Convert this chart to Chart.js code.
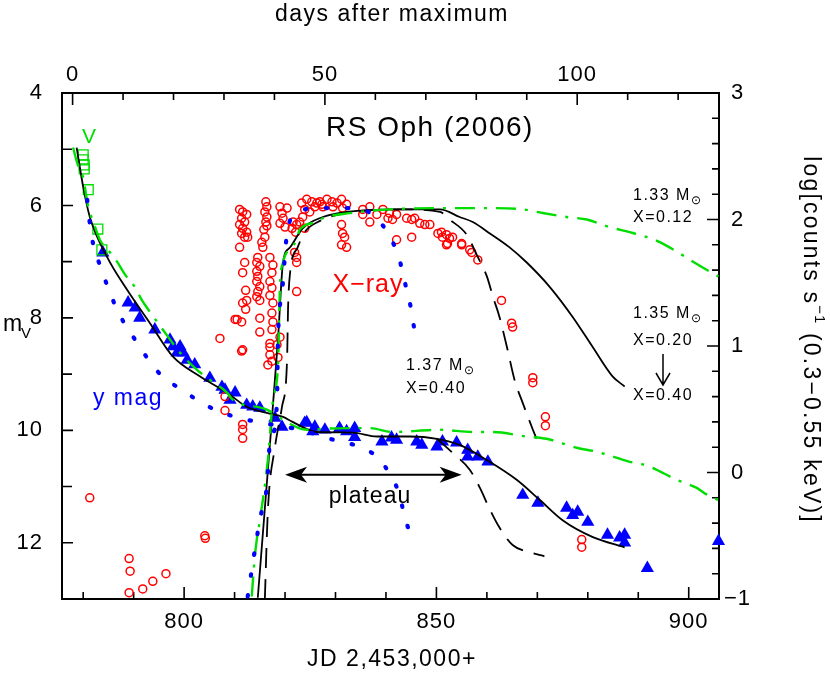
<!DOCTYPE html>
<html><head><meta charset="utf-8">
<script src="https://cdn.jsdelivr.net/npm/chart.js@4.4.1/dist/chart.umd.min.js"></script>
<style>html,body{margin:0;padding:0;background:#fff}</style>
</head><body>
<canvas id="c" width="830" height="678"></canvas>
<script>
// ---------- data ----------
const jdMin = 775.8, jdMax = 906.0, dayZero = 777.9;
const bottomTickVals = [780,790,800,810,820,830,840,850,860,870,880,890,900];
const bottomLabelVals = [800,850,900];
const topTickVals = [0,10,20,30,40,50,60,70,80,90,100,110,120];
const topLabelVals = [0,50,100];
const leftTickVals = [4,5,6,7,8,9,10,11,12,13];
const leftLabelVals = [4,6,8,10,12];
const rightTickVals = [-1,-0.8,-0.6,-0.4,-0.2,0,0.2,0.4,0.6,0.8,1,1.2,1.4,1.6,1.8,2,2.2,2.4,2.6,2.8,3];
const rightLabelVals = [-1,0,1,2,3];

// X-ray count rate (log counts/s), red open circles
const xrayJD = [
 781.3,789.1,789.3,789.1,791.8,793.8,796.4,804.1,804.2,807.1,810.1,808.1,808.1,811.4,811.6,811.6,811.6,817.0,817.0,816.6,817.4,818.4,
 811.0,811.6,812.4,811.4,812.0,811.0,811.6,812.4,811.4,812.0,812.6,811.0,812.0,811.6,812.2,812.4,811.6,812.2,810.5,811.4,811.6,
 814.6,814.4,815.0,814.4,814.6,814.4,815.0,814.6,814.4,815.0,815.0,815.0,
 816.2,816.4,816.0,816.4,816.2,816.4,815.8,816.0,815.4,815.6,
 817.0,817.6,817.4,817.0,817.4,817.0,817.6,817.4,817.6,817.4,819.0,817.0,818.6,
 819.0,820.4,819.4,819.6,819.0,820.0,821.4,821.6,822.3,822.1,821.9,822.3,822.3,822.3,
 823.3,824.3,825.3,826.3,826.9,827.5,828.3,829.3,830.3,831.2,832.2,823.9,824.9,825.9,827.3,829.5,831.4,823.5,822.9,823.9,831.2,831.4,831.8,831.2,832.2,
 835.4,836.8,838.2,835.4,836.8,839.4,840.7,840.4,841.3,842.1,844.1,845.1,845.7,846.7,847.7,848.7,842.1,845.1,
 850.3,851.0,851.2,852.0,852.6,852.2,853.2,855.0,856.6,852.0,855.0,857.0,858.2,862.9,864.9,865.1,869.1,869.1,871.6,871.6,878.8,878.8];
const xrayLog = [
 -0.20,-0.68,-0.78,-0.95,-0.92,-0.86,-0.80,-0.50,-0.52,1.06,1.21,0.60,0.49,0.96,0.38,0.34,0.27,1.02,0.93,0.85,0.88,1.01,
 2.08,2.06,2.04,2.01,1.98,1.96,1.93,1.90,1.89,1.86,1.86,1.78,1.66,1.58,1.44,1.36,1.34,1.29,1.21,1.19,0.97,
 1.70,1.66,1.63,1.59,1.55,1.51,1.47,1.43,1.39,1.36,1.22,1.11,
 2.14,2.10,2.06,2.02,1.98,1.95,1.92,1.86,1.82,1.78,
 1.70,1.64,1.58,1.51,1.46,1.40,1.34,1.26,1.19,1.13,1.07,0.99,0.91,
 2.10,2.09,2.05,2.01,1.97,1.94,1.93,1.98,1.96,1.90,1.74,1.70,1.66,1.43,
 2.13,2.16,2.14,2.13,2.14,2.10,2.16,2.14,2.13,2.16,2.12,2.08,2.06,2.10,2.12,2.10,2.09,2.02,1.98,1.93,1.96,1.89,1.86,1.80,1.78,
 2.08,2.10,2.04,2.04,1.98,2.08,2.05,2.01,2.00,2.04,2.01,2.00,2.01,1.97,1.96,1.96,1.84,1.86,
 1.89,1.90,1.86,1.88,1.85,1.81,1.86,1.81,1.76,1.80,1.80,1.74,1.68,1.36,1.18,1.15,0.75,0.71,0.44,0.37,-0.53,-0.59];

// y magnitudes, blue triangles
const yJD = [783.9,788.9,790.3,791.2,794.2,797.2,799.2,799.8,797.8,798.6,800.6,802.1,805.1,807.5,808.1,810.1,809.1,812.4,813.6,815.0,818.0,819.4,
 824.3,825.5,823.9,825.9,827.9,830.8,832.2,833.8,833.8,839.2,841.1,842.1,846.1,847.1,850.1,851.2,854.0,856.2,856.2,858.2,860.2,
 867.1,870.1,875.8,877.0,878.0,880.0,883.9,886.3,887.3,887.3,891.8,905.9];
const yMag = [6.84,7.73,7.82,8.00,8.21,8.39,8.51,8.62,8.51,8.62,8.75,8.83,9.07,9.23,9.28,9.33,9.46,9.55,9.58,9.60,9.78,9.94,
 9.86,10.02,9.87,9.94,9.99,9.96,10.02,9.96,10.12,10.20,10.13,10.17,10.20,10.26,10.29,10.20,10.22,10.35,10.47,10.47,10.56,
 11.15,11.29,11.38,11.51,11.45,11.63,11.86,11.91,11.86,12.00,12.45,11.97];

// V magnitudes, green open squares
const vJD = [780.0,780.0,780.2,780.2,781.0,782.9,783.7];
const vMag = [5.10,5.19,5.28,5.35,5.72,6.42,6.79];

// model 1.35 Msun X=0.20 (black solid)
const m135OptJD = [778.7,780.0,781.3,784.7,788.7,793.2,797.8,803.1,808.5,812.4,816.4,819.6,821.5,826.3,833.4,838.2,844.7,850.1,854.6,860.0,865.9,870.5,875.0,881.0,887.3];
const m135OptMag = [4.97,5.67,6.20,6.91,7.50,8.09,8.69,9.04,9.33,9.58,9.69,9.76,9.85,10.03,10.04,10.11,10.11,10.15,10.26,10.53,10.88,11.24,11.60,11.90,12.08];
const m135XJD = [814.6,816.6,818.6,819.6,821.0,823.5,827.5,832.2,842.7,850.7,854.6,857.2,860.6,864.5,867.9,872.4,877.0,881.0,884.9,887.3];
const m135XLog = [-0.99,0.02,1.05,1.66,1.78,1.93,2.02,2.06,2.08,2.08,2.02,1.98,1.89,1.78,1.66,1.47,1.23,0.99,0.76,0.68];

// model 1.35 Msun X=0.40 (black dashed)
const m135bOptJD = [850.1,853.2,856.6,858.6,860.6,862.5,865.1,868.9,871.4];
const m135bOptMag = [10.15,10.40,10.70,11.02,11.41,11.73,12.04,12.18,12.24];
const m135bXJD = [816.0,816.6,818.0,819.4,820.4,820.6,821.0,822.5,823.9,826.5,830.8,842.7,850.7,852.6,856.0,858.0,860.0,861.2,862.5,864.1,865.5,867.1,869.1,870.1];
const m135bXLog = [-1.0,-0.30,0.20,0.52,0.89,1.30,1.58,1.78,1.90,1.98,2.04,2.08,2.06,2.00,1.88,1.72,1.55,1.39,1.23,0.97,0.73,0.55,0.34,0.24];

// model 1.33 Msun X=0.12 (green dash-dot)
const m133OptJD = [778.0,778.8,780.0,781.0,782.0,783.3,784.9,786.7,788.3,790.3,791.6,793.2,795.8,799.2,802.5,805.1,808.5,809.7,816.4,819.0,824.3,828.3,836.8,841.3,850.7,857.2,861.1,867.9,871.8,877.8,881.7,888.3,891.8,897.6,901.5,903.7,905.9];
const m133OptMag = [4.97,5.24,5.51,6.03,6.29,6.61,6.79,7.00,7.23,7.46,7.68,7.89,8.21,8.62,8.92,9.10,9.33,9.46,9.63,9.78,9.99,9.97,9.96,10.03,9.99,10.03,10.03,10.11,10.15,10.31,10.38,10.56,10.63,10.88,11.02,11.15,11.24];
const m133XJD = [813.4,814.0,814.4,815.0,816.6,817.6,818.6,819.0,819.6,821.4,822.3,822.9,826.3,827.5,832.8,840.7,852.6,861.1,867.1,869.9,875.8,879.8,884.3,888.3,893.2,896.2,901.1,904.5,905.9];
const m133XLog = [-0.98,-0.67,-0.53,-0.38,0.10,0.57,0.85,1.47,1.66,1.78,1.84,1.92,1.98,2.01,2.05,2.08,2.09,2.09,2.08,2.06,2.02,2.00,1.94,1.90,1.84,1.78,1.66,1.58,1.55];

// model 1.37 Msun X=0.40 (blue dotted)
const m137OptJD = [780.8,781.3,782.0,783.3,784.7,786.3,788.3,790.7,793.2,795.8,799.6,803.1,807.1,811.0,815.0,817.6,822.9,830.8,834.8,838.4,841.1,842.7,843.7,845.3];
const m137OptMag = [5.90,6.31,6.70,7.06,7.41,7.77,8.12,8.44,8.78,9.05,9.28,9.49,9.67,9.78,9.86,9.90,9.99,10.20,10.29,10.49,10.83,11.15,11.54,11.95];
const m137XJD = [812.6,814.6,815.4,816.4,817.0,818.4,818.6,819.4,820.4,822.3,826.5,830.8,835.2,838.8,841.1,842.7,843.7,844.7,846.1];
const m137XLog = [-0.98,-0.47,-0.30,-0.11,0.23,0.55,1.05,1.42,1.89,2.05,2.09,2.09,2.08,1.98,1.84,1.68,1.51,1.35,1.01];

// plateau arrow (JD start, JD end, mag level)
const plateauArrow = [820.0, 855.0, 10.79];

// ---------- helpers ----------
const FONT = '"Liberation Sans", Arial, sans-serif';
const pts = (xs, ys) => xs.map((x, i) => ({x: x, y: ys[i]}));
function lineSet(xs, ys, axis, color, dash, width, cap) {
  return {type: 'line', data: pts(xs, ys), yAxisID: axis, borderColor: color, borderWidth: width,
    borderDash: dash, borderCapStyle: cap || 'butt', pointRadius: 0, fill: false, showLine: true,
    cubicInterpolationMode: 'monotone'};
}
function fixed(prop, v) { return function(s) { s[prop] = v; }; }

function drawText(ctx, s, x, y, size, color, align, baseline, spacing) {
  ctx.save();
  ctx.font = size + 'px ' + FONT;
  ctx.fillStyle = color || '#000';
  ctx.textAlign = align || 'center';
  ctx.textBaseline = baseline || 'middle';
  ctx.letterSpacing = (spacing || 0) + 'px';
  ctx.fillText(s, x, y);
  ctx.restore();
}
function textW(ctx, s, size, spacing) {
  ctx.save(); ctx.font = size + 'px ' + FONT; ctx.letterSpacing = (spacing || 0) + 'px';
  const w = ctx.measureText(s).width; ctx.restore(); return w;
}
function massLabel(ctx, num, x, y) {
  const w = textW(ctx, num + ' M', 16, 1.5);
  drawText(ctx, num + ' M', x, y, 16, '#000', 'left', 'middle', 1.5);
  drawText(ctx, '\u2299', x + w, y + 5, 12, '#000', 'left', 'middle', 0);
}

// ---------- plugins ----------
const framePlugin = {
  id: 'frame',
  beforeDraw(chart) { chart.ctx.letterSpacing = '1px'; },
  beforeDatasetsDraw(chart) {
    const {ctx, chartArea: a, scales} = chart;
    ctx.save();
    ctx.strokeStyle = '#000';
    ctx.lineWidth = 1.6;
    ctx.beginPath();
    bottomTickVals.forEach(v => { const p = scales.x.getPixelForValue(v); const L = bottomLabelVals.includes(v) ? 12 : 7;
      ctx.moveTo(p, a.bottom); ctx.lineTo(p, a.bottom - L); });
    topTickVals.forEach(v => { const p = scales.x2.getPixelForValue(v); const L = topLabelVals.includes(v) ? 12 : 7;
      ctx.moveTo(p, a.top); ctx.lineTo(p, a.top + L); });
    leftTickVals.forEach(v => { const p = scales.y.getPixelForValue(v); const L = leftLabelVals.includes(v) ? 11 : 10;
      ctx.moveTo(a.left, p); ctx.lineTo(a.left + L, p); });
    rightTickVals.forEach(v => { const p = scales.y2.getPixelForValue(v); const L = rightLabelVals.includes(v) ? 12 : 7;
      ctx.moveTo(a.right, p); ctx.lineTo(a.right - L, p); });
    ctx.stroke();
    ctx.lineWidth = 2;
    ctx.strokeRect(a.left, a.top, a.right - a.left, a.bottom - a.top);
    ctx.restore();
  },
  afterDraw(chart) {
    const {ctx, scales} = chart;
    const X = v => scales.x.getPixelForValue(v), Y = v => scales.y.getPixelForValue(v);
    // axis titles
    drawText(ctx, 'days after maximum', 392, 15, 23, '#000', 'center', 'middle', 1.5);
    drawText(ctx, 'JD 2,453,000+', 392, 660, 23, '#000', 'center', 'middle', 1.5);
    drawText(ctx, 'm', 3, 325, 23, '#000', 'left', 'middle', 1);
    drawText(ctx, 'V', 21, 334, 15, '#000', 'left', 'middle', 0);
    // right rotated title
    ctx.save();
    ctx.translate(810, 340);
    ctx.rotate(Math.PI / 2);
    const p1 = 'log[counts s', p2 = '\u22121', p3 = ' (0.3\u22120.55 keV)]';
    const w1 = textW(ctx, p1, 23, 2.2), w2 = textW(ctx, p2, 15, 1), w3 = textW(ctx, p3, 23, 2.2);
    let sx = -(w1 + w2 + w3) / 2;
    drawText(ctx, p1, sx, 0, 23, '#000', 'left', 'middle', 2.2); sx += w1;
    drawText(ctx, p2, sx, -9, 15, '#000', 'left', 'middle', 1); sx += w2;
    drawText(ctx, p3, sx, 0, 23, '#000', 'left', 'middle', 2.2);
    ctx.restore();
    // in-plot text
    drawText(ctx, 'RS Oph (2006)', 430, 128, 28, '#000', 'center', 'middle', 1.5);
    drawText(ctx, 'X\u2212ray', 368, 285, 25, '#ff0000', 'center', 'middle', 1);
    drawText(ctx, 'y mag', 128, 399, 23, '#0000ff', 'center', 'middle', 1.5);
    drawText(ctx, 'plateau', 370, 497, 23, '#000', 'center', 'middle', 1);
    drawText(ctx, 'V', 89, 137, 21, '#00dd00', 'center', 'middle', 0);
    massLabel(ctx, '1.37', 406, 366);
    drawText(ctx, 'X=0.40', 406, 389, 16, '#000', 'left', 'middle', 1.5);
    massLabel(ctx, '1.33', 633, 196);
    drawText(ctx, 'X=0.12', 633, 218, 16, '#000', 'left', 'middle', 1.5);
    massLabel(ctx, '1.35', 633, 314);
    drawText(ctx, 'X=0.20', 633, 341, 16, '#000', 'left', 'middle', 1.5);
    drawText(ctx, 'X=0.40', 633, 396, 16, '#000', 'left', 'middle', 1.5);
    // small down arrow
    ctx.save(); ctx.strokeStyle = '#000'; ctx.lineWidth = 1.5; ctx.beginPath();
    ctx.moveTo(663, 354); ctx.lineTo(663, 385); ctx.moveTo(656, 373); ctx.lineTo(663, 385); ctx.lineTo(670, 373);
    ctx.stroke(); ctx.restore();
    // plateau double arrow
    const ax1 = X(plateauArrow[0]), ax2 = X(plateauArrow[1]), ay = Y(plateauArrow[2]);
    ctx.save(); ctx.strokeStyle = '#000'; ctx.fillStyle = '#000'; ctx.lineWidth = 2;
    ctx.beginPath(); ctx.moveTo(ax1 + 10, ay); ctx.lineTo(ax2 - 10, ay); ctx.stroke();
    ctx.beginPath(); ctx.moveTo(ax1, ay); ctx.lineTo(ax1 + 22, ay - 8); ctx.lineTo(ax1 + 16, ay); ctx.lineTo(ax1 + 22, ay + 8); ctx.closePath(); ctx.fill();
    ctx.beginPath(); ctx.moveTo(ax2, ay); ctx.lineTo(ax2 - 22, ay - 8); ctx.lineTo(ax2 - 16, ay); ctx.lineTo(ax2 - 22, ay + 8); ctx.closePath(); ctx.fill();
    ctx.restore();
  }
};

// ---------- chart ----------
const GREEN = '#00dd00', BLUE = '#0000ff', RED = '#ff0000';
const tickFont = {family: FONT, size: 22};
new Chart(document.getElementById('c'), {
  type: 'scatter',
  data: {
    datasets: [
      lineSet(m137OptJD, m137OptMag, 'y', BLUE, [1.5, 19.5], 4.2, 'round'),
      lineSet(m137XJD, m137XLog, 'y2', BLUE, [1.5, 19.5], 4.2, 'round'),
      lineSet(m133OptJD, m133OptMag, 'y', GREEN, [20, 9, 3, 9], 2.4),
      lineSet(m133XJD, m133XLog, 'y2', GREEN, [20, 9, 3, 9], 2.4),
      lineSet(m135bOptJD, m135bOptMag, 'y', '#000', [20, 11], 1.8),
      lineSet(m135bXJD, m135bXLog, 'y2', '#000', [20, 11], 1.8),
      lineSet(m135OptJD, m135OptMag, 'y', '#000', [], 1.8),
      lineSet(m135XJD, m135XLog, 'y2', '#000', [], 1.8),
      {data: pts(xrayJD, xrayLog), yAxisID: 'y2', pointStyle: 'circle', pointRadius: 4, borderWidth: 1.5,
        borderColor: RED, backgroundColor: 'rgba(0,0,0,0)', pointBorderColor: RED, pointBackgroundColor: 'rgba(0,0,0,0)'},
      {data: pts(vJD, vMag), yAxisID: 'y', pointStyle: 'rect', pointRadius: 7, borderWidth: 1.3,
        pointBorderColor: GREEN, pointBackgroundColor: 'rgba(0,0,0,0)'},
      {data: pts(yJD, yMag), yAxisID: 'y', pointStyle: 'triangle', pointRadius: 7.6, borderWidth: 0,
        pointBorderColor: BLUE, pointBackgroundColor: BLUE, clip: false}
    ]
  },
  options: {
    responsive: false, animation: false, devicePixelRatio: 1,
    layout: {padding: 0},
    plugins: {legend: {display: false}, tooltip: {enabled: false}},
    elements: {line: {tension: 0}},
    scales: {
      x: {type: 'linear', position: 'bottom', min: jdMin, max: jdMax,
        grid: {display: false}, border: {display: false},
        afterFit: fixed('height', 79),
        afterBuildTicks: s => { s.ticks = bottomTickVals.map(v => ({value: v})); },
        ticks: {autoSkip: false, maxRotation: 0, padding: 2, color: '#000', font: tickFont,
          callback: v => bottomLabelVals.includes(v) ? String(v) : ''}},
      x2: {type: 'linear', position: 'top', min: jdMin - dayZero, max: jdMax - dayZero,
        grid: {display: false}, border: {display: false},
        afterFit: fixed('height', 93),
        afterBuildTicks: s => { s.ticks = topTickVals.map(v => ({value: v})); },
        ticks: {autoSkip: false, maxRotation: 0, padding: -3, color: '#000', font: tickFont,
          callback: v => topLabelVals.includes(v) ? String(v) : ''}},
      y: {type: 'linear', position: 'left', min: 4, max: 13, reverse: true,
        grid: {display: false}, border: {display: false},
        afterFit: fixed('width', 62),
        afterBuildTicks: s => { s.ticks = leftTickVals.map(v => ({value: v})); },
        ticks: {autoSkip: false, padding: 11, color: '#000', font: tickFont,
          callback: v => leftLabelVals.includes(v) ? String(v) : ''}},
      y2: {type: 'linear', position: 'right', min: -1, max: 3,
        grid: {display: false}, border: {display: false},
        afterFit: fixed('width', 111),
        afterBuildTicks: s => { s.ticks = rightTickVals.map(v => ({value: v})); },
        ticks: {autoSkip: false, padding: -2, color: '#000', font: tickFont, crossAlign: 'center',
          callback: v => rightLabelVals.includes(v) ? (v < 0 ? '\u2212' + Math.abs(v) : String(v)) : ''}}
    }
  },
  plugins: [framePlugin]
});
</script>
</body></html>
